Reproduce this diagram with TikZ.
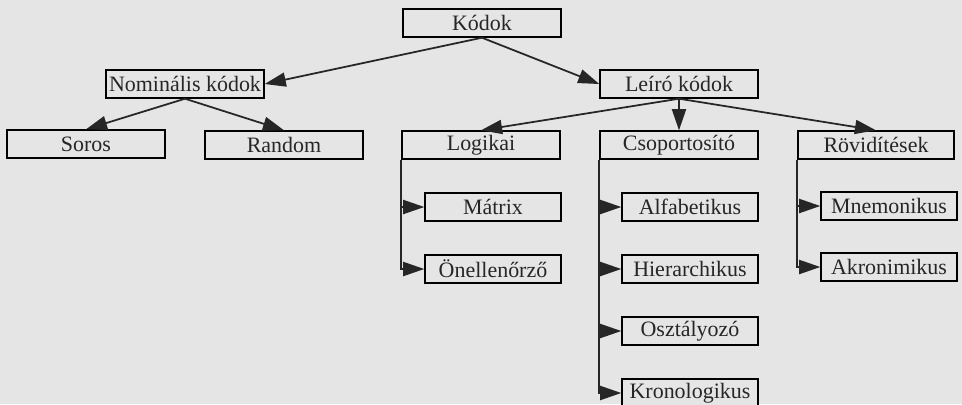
\documentclass[tikz,border=0pt]{standalone}
\usepackage{fontspec}
\setmainfont{Liberation Serif}
\usetikzlibrary{arrows.meta}
\definecolor{paper}{gray}{0.9}
\definecolor{ink}{gray}{0.15}
\begin{document}
\begin{tikzpicture}[x=0.2mm, y=-0.2mm, font=\fontsize{12.5}{14}\selectfont]
  \tikzset{box/.style={draw=black, line width=0.8pt, fill=paper, text=ink, inner sep=0pt, minimum width=31.6mm, minimum height=5.6mm}}
  \tikzset{sbox/.style={box, minimum width=27.2mm}}
  \tikzset{link/.style={line width=1pt, draw=black!85, -{Triangle[length=12pt, width=8pt]}}}
  \fill[paper] (0,0) rectangle (962,404);
  \useasboundingbox (0,0) rectangle (962,404);
  % levels 1-2
  \node[box] (kodok) at (482,23) {Kódok};
  \node[box] (nominalis) at (185,84) {Nominális kódok};
  \node[box] (leiro) at (679,84) {Leíró kódok};
  % level 3
  \node[box] (soros) at (86,144) {Soros};
  \node[box] (random) at (284,145) {Random};
  \node[box] (logikai) at (481,145) {Logikai};
  \node[box] (csop) at (679,145) {Csoportosító};
  \node[box, minimum width=31.2mm] (rovid) at (876,145) {Rövidítések};
  % level 4
  \node[sbox] (matrix) at (493,207) {Mátrix};
  \node[sbox] (onell) at (493,269) {Önellenőrző};
  \node[sbox] (alfa) at (690,207) {Alfabetikus};
  \node[sbox] (hier) at (690,269) {Hierarchikus};
  \node[sbox] (oszt) at (690,331) {Osztályozó};
  \node[sbox] (kron) at (690,393) {Kronologikus};
  \node[sbox] (mnem) at (889,206) {Mnemonikus};
  \node[sbox] (akron) at (889,267) {Akronimikus};
  % links
  \draw[link] (kodok.south) -- (nominalis.east);
  \draw[link] (kodok.south) -- (leiro.west);
  \draw[link] (nominalis.south) -- (soros.north);
  \draw[link] (nominalis.south) -- (random.north);
  \draw[link] (leiro.south) -- (logikai.north);
  \draw[link] (leiro.south) -- (csop.north);
  \draw[link] (leiro.south) -- (rovid.north);
  \draw[link] (logikai.south west) |- (matrix.west);
  \draw[link] (logikai.south west) |- (onell.west);
  \draw[link] (csop.south west) |- (alfa.west);
  \draw[link] (csop.south west) |- (hier.west);
  \draw[link] (csop.south west) |- (oszt.west);
  \draw[link] (csop.south west) |- (kron.west);
  \draw[link] (rovid.south west) |- (mnem.west);
  \draw[link] (rovid.south west) |- (akron.west);
\end{tikzpicture}
\end{document}
